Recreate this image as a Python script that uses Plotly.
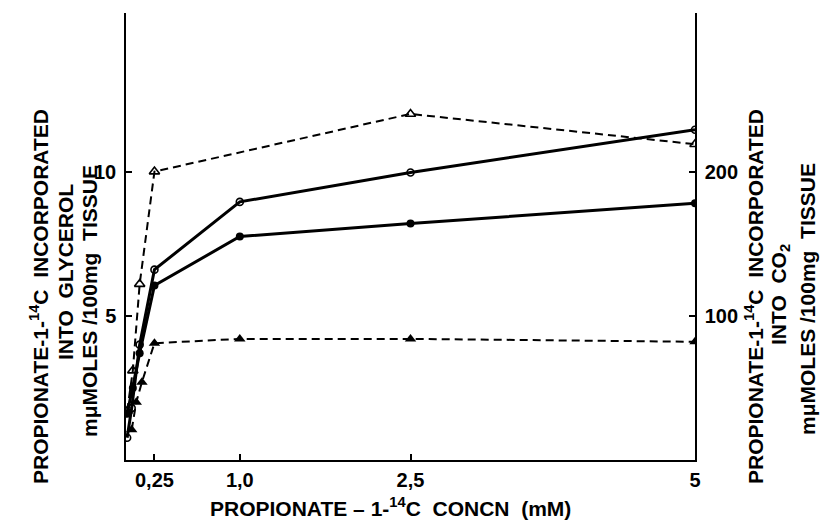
import plotly.graph_objects as go

# ---- data ----
conc_open_circle = [0.01, 0.05, 0.12, 0.25, 1.0, 2.5, 5.0]
glycerol_open_circle = [0.77, 1.8, 4.0, 6.6, 8.95, 9.97, 11.45]

conc_closed_circle = [0.01, 0.06, 0.12, 0.25, 1.0, 2.5, 5.0]
glycerol_closed_circle = [1.6, 2.5, 3.7, 6.05, 7.75, 8.2, 8.9]

conc_open_triangle = [0.01, 0.06, 0.12, 0.25, 2.5, 5.0]
co2_open_triangle = [34, 62, 122, 200, 240, 219]

conc_closed_triangle = [0.05, 0.09, 0.14, 0.25, 1.0, 2.5, 5.0]
co2_closed_triangle = [21, 40, 54, 81, 84, 84, 82]

x_tickvals = [0.25, 1.0, 2.5, 5]
x_ticktext = ["0,25", "1,0", "2,5", "5"]
y_tickvals = [5, 10]
y2_tickvals = [100, 200]

FONT = "Liberation Sans Narrow, Liberation Sans, Arial, sans-serif"

# ---- layout geometry (pixels) ----
W, H = 822, 525
L, R, T, B = 126, 127, 13, 65
PW, PH = W - L - R, H - T - B


def px(xp):
    return (xp - L) / PW


def py(yp):
    return (H - B - yp) / PH


fig = go.Figure()

fig.add_trace(go.Scatter(
    x=conc_open_circle, y=glycerol_open_circle, mode="lines+markers",
    line=dict(color="black", width=3),
    marker=dict(symbol="circle-open", size=7, color="black", line=dict(width=1.6)),
    yaxis="y", showlegend=False))

fig.add_trace(go.Scatter(
    x=conc_closed_circle, y=glycerol_closed_circle, mode="lines+markers",
    line=dict(color="black", width=3),
    marker=dict(symbol="circle", size=8, color="black"),
    yaxis="y", showlegend=False))

fig.add_trace(go.Scatter(
    x=conc_open_triangle, y=co2_open_triangle, mode="lines+markers",
    line=dict(color="black", width=2, dash="8px,5px"),
    marker=dict(symbol="triangle-up-open", size=9, color="black", line=dict(width=1.6)),
    yaxis="y2", showlegend=False))

fig.add_trace(go.Scatter(
    x=conc_closed_triangle, y=co2_closed_triangle, mode="lines+markers",
    line=dict(color="black", width=2, dash="8px,5px"),
    marker=dict(symbol="triangle-up", size=10, color="black"),
    yaxis="y2", showlegend=False))

tickfont = dict(family=FONT, size=20, color="black", weight="bold")
titlefont = dict(family=FONT, size=21, color="black", weight="bold")

fig.update_layout(
    width=W, height=H,
    margin=dict(l=L, r=R, t=T, b=B),
    paper_bgcolor="white", plot_bgcolor="white",
    xaxis=dict(range=[0, 5], showgrid=False, zeroline=False, showline=True,
               linecolor="black", linewidth=1.5, ticks="inside", ticklen=6,
               tickwidth=1.5, tickcolor="black", tickvals=x_tickvals,
               ticktext=x_ticktext, tickfont=tickfont, ticklabelstandoff=1),
    yaxis=dict(range=[0, 15.5], showgrid=False, zeroline=False, showline=True,
               linecolor="black", linewidth=1.5, ticks="inside", ticklen=6,
               tickwidth=1.5, tickcolor="black", tickvals=y_tickvals,
               tickfont=tickfont, ticklabelstandoff=4),
    yaxis2=dict(range=[0, 310], overlaying="y", side="right", anchor="x",
                showgrid=False, zeroline=False, showline=True,
                linecolor="black", linewidth=1.5, ticks="inside", ticklen=6,
                tickwidth=1.5, tickcolor="black", tickvals=y2_tickvals,
                tickfont=tickfont, ticklabelstandoff=4),
)

annotations = [
    # left title
    ("PROPIONATE-1-<sup>14</sup>C  INCORPORATED", 39, 297),
    ("INTO  GLYCEROL", 65, 272),
    ("mμMOLES /100mg  TISSUE", 89, 301),
    # right title
    ("PROPIONATE-1-<sup>14</sup>C  INCORPORATED", 754, 297),
    ("INTO  CO<sub>2</sub>", 780, 295),
    ("mμMOLES /100mg  TISSUE", 807, 299),
]
for text, xp, yp in annotations:
    fig.add_annotation(text=text, xref="paper", yref="paper", x=px(xp), y=py(yp),
                       xanchor="center", yanchor="middle", textangle=-90,
                       showarrow=False, font=titlefont)

fig.add_annotation(text="PROPIONATE – 1-<sup>14</sup>C  CONCN  (mM)", xref="paper",
                   yref="paper", x=px(390), y=py(507), xanchor="center",
                   yanchor="middle", showarrow=False, font=titlefont)

fig.write_html("out.html")
